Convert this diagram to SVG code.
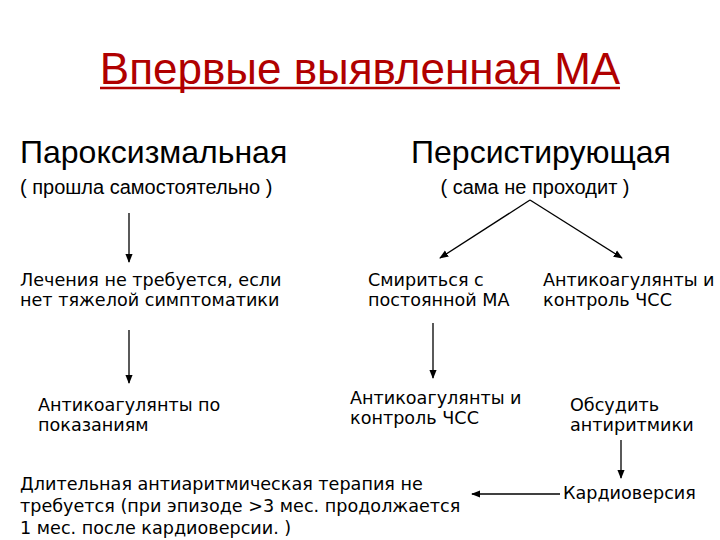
<svg xmlns="http://www.w3.org/2000/svg" width="720" height="540" viewBox="0 0 720 540">
<style>
.h{font-family:"Liberation Sans",Arial,sans-serif;fill:#000}
.t{font-family:"DejaVu Sans",Verdana,sans-serif;font-size:17.6px;fill:#000}
.c{stroke:#000;stroke-width:1.3;fill:none;marker-end:url(#a)}
</style>
<defs><marker id="a" viewBox="0 0 10 10" refX="9" refY="5" markerWidth="7" markerHeight="7" orient="auto"><path d="M0,1 L10,5 L0,9 z" fill="#000"/></marker></defs>
<rect width="720" height="540" fill="#fff"/>
<g id="title"><text x="360" y="84" text-anchor="middle" class="h" style="font-size:44px;fill:#B00000">Впервые выявленная МА</text><line x1="100" y1="88" x2="620" y2="88" stroke="#B00000" stroke-width="2.5"/></g>
<g id="parox"><text x="20" y="163" class="h" font-size="32">Пароксизмальная</text><text x="20" y="194" class="h" font-size="20">( прошла самостоятельно )</text></g>
<g id="pers"><text x="541" y="163" class="h" font-size="32" text-anchor="middle">Персистирующая</text><text x="535" y="194" class="h" font-size="20" text-anchor="middle">( сама не проходит )</text></g>
<g id="n1"><text class="t" x="20" y="286">Лечения не требуется, если</text><text class="t" x="20" y="306">нет тяжелой симптоматики</text></g>
<g id="n2"><text class="t" x="38" y="411">Антикоагулянты по</text><text class="t" x="38" y="431">показаниям</text></g>
<g id="n3"><text class="t" x="368" y="286">Смириться с</text><text class="t" x="368" y="306">постоянной МА</text></g>
<g id="n4"><text class="t" x="543" y="286">Антикоагулянты и</text><text class="t" x="543" y="306">контроль ЧСС</text></g>
<g id="n5"><text class="t" x="350" y="404">Антикоагулянты и</text><text class="t" x="350" y="424">контроль ЧСС</text></g>
<g id="n6"><text class="t" x="570" y="411">Обсудить</text><text class="t" x="570" y="431">антиритмики</text></g>
<g id="n7"><text class="t" x="563" y="499">Кардиоверсия</text></g>
<g id="n8"><text class="t" x="20" y="490">Длительная антиаритмическая терапия не</text><text class="t" x="20" y="512">требуется (при эпизоде &gt;3 мес. продолжается</text><text class="t" x="20" y="534">1 мес. после кардиоверсии. )</text></g>
<g id="connectors">
<path class="c" d="M129,213 V262"/>
<path class="c" d="M129,330 V383"/>
<path class="c" d="M530,200 L440,258"/>
<path class="c" d="M530,200 L622,258"/>
<path class="c" d="M433,323 V378"/>
<path class="c" d="M621,440 V478"/>
<path class="c" d="M560,494 H472"/>
</g>
</svg>
